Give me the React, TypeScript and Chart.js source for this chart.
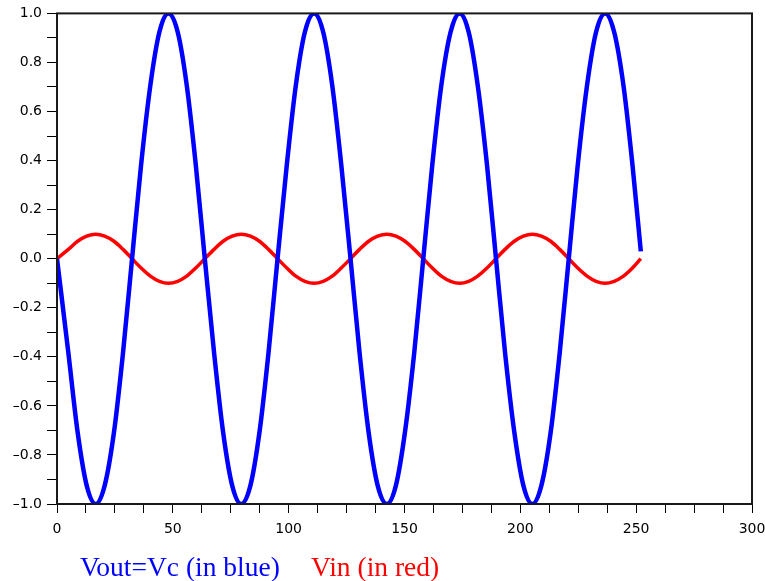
import React, { useEffect, useRef } from "react";
import { Chart, registerables } from "chart.js";

Chart.register(...registerables);

// time axis samples
const timeValues: number[] = [
  0, 4.9, 8.9, 12.8, 16.7, 20.6, 24.6, 28.5, 32.4, 36.3, 40.3, 44.2, 48.1, 52.1, 56.0, 59.9,
  63.8, 67.8, 71.7, 75.6, 79.5, 83.5, 87.4, 91.3, 95.2, 99.2, 103.1, 107.0, 111.0, 114.9, 118.8, 122.7,
  126.7, 130.6, 134.5, 138.4, 142.4, 146.3, 150.2, 154.2, 158.1, 162.0, 165.9, 169.9, 173.8, 177.7, 181.6, 185.6,
  189.5, 193.4, 197.4, 201.3, 205.2, 209.1, 213.1, 217.0, 220.9, 224.8, 228.8, 232.7, 236.6, 240.5, 244.5, 248.4,
  252.0,
];

// Vout = Vc (blue)
const voutValues: number[] = [
  0,
  -0.383, -0.707, -0.924, -1, -0.924, -0.707, -0.383, 0, 0.383, 0.707, 0.924, 1, 0.924, 0.707, 0.383, 0,
  -0.383, -0.707, -0.924, -1, -0.924, -0.707, -0.383, 0, 0.383, 0.707, 0.924, 1, 0.924, 0.707, 0.383, 0,
  -0.383, -0.707, -0.924, -1, -0.924, -0.707, -0.383, 0, 0.383, 0.707, 0.924, 1, 0.924, 0.707, 0.383, 0,
  -0.383, -0.707, -0.924, -1, -0.924, -0.707, -0.383, 0, 0.383, 0.707, 0.924, 1, 0.924, 0.707, 0.383, 0.03,
];

// Vin (red)
const vinValues: number[] = [
  0,
  0.038, 0.071, 0.092, 0.1, 0.092, 0.071, 0.038, 0, -0.038, -0.071, -0.092, -0.1, -0.092, -0.071, -0.038, 0,
  0.038, 0.071, 0.092, 0.1, 0.092, 0.071, 0.038, 0, -0.038, -0.071, -0.092, -0.1, -0.092, -0.071, -0.038, 0,
  0.038, 0.071, 0.092, 0.1, 0.092, 0.071, 0.038, 0, -0.038, -0.071, -0.092, -0.1, -0.092, -0.071, -0.038, 0,
  0.038, 0.071, 0.092, 0.1, 0.092, 0.071, 0.038, 0, -0.038, -0.071, -0.092, -0.1, -0.092, -0.071, -0.038, 0,
];

const xMin = 0;
const xMax = 300;
const xStep = 12.5;
const xLabelEvery = 50;
const yMin = -1;
const yMax = 1;
const yStep = 0.1;

const legendItems = [
  { text: "Vout=Vc (in blue)", color: "#0000ff", left: 80 },
  { text: "Vin (in red)", color: "#ff0000", left: 311 },
];

const boxPlugin = {
  id: "boxPlugin",
  afterDraw(chart: any) {
    const { ctx, chartArea } = chart;
    ctx.save();
    ctx.strokeStyle = "#1a1a1a";
    ctx.lineWidth = 2;
    ctx.strokeRect(chartArea.left, chartArea.top, chartArea.right - chartArea.left, chartArea.bottom - chartArea.top);
    ctx.restore();
  },
};

export default function App() {
  const canvasRef = useRef<HTMLCanvasElement | null>(null);

  useEffect(() => {
    if (!canvasRef.current) return;
    const chart = new Chart(canvasRef.current, {
      type: "line",
      data: {
        datasets: [
          {
            label: "Vout=Vc",
            data: timeValues.map((t, i) => ({ x: t, y: voutValues[i] })),
            borderColor: "#0000ff",
            borderWidth: 4.5,
            pointRadius: 0,
            cubicInterpolationMode: "monotone",
            fill: false,
          },
          {
            label: "Vin",
            data: timeValues.map((t, i) => ({ x: t, y: vinValues[i] })),
            borderColor: "#ff0000",
            borderWidth: 3.5,
            pointRadius: 0,
            cubicInterpolationMode: "monotone",
            fill: false,
          },
        ],
      },
      options: {
        animation: false,
        responsive: false,
        maintainAspectRatio: false,
        layout: { padding: { left: 0, right: 28, top: 13, bottom: 0 } },
        plugins: { legend: { display: false }, tooltip: { enabled: false } },
        scales: {
          x: {
            type: "linear",
            min: xMin,
            max: xMax,
            afterFit: (scale: any) => {
              scale.height = 77;
            },
            border: { display: false },
            grid: { drawOnChartArea: false, drawTicks: true, tickLength: 9, color: "#000", lineWidth: 1 },
            ticks: {
              stepSize: xStep,
              autoSkip: false,
              maxRotation: 0,
              padding: 8,
              color: "#000",
              font: { family: "DejaVu Sans", size: 14 },
              callback: (v: any) => {
                const n = Number(v);
                return Math.abs(n / xLabelEvery - Math.round(n / xLabelEvery)) < 1e-6 ? String(Math.round(n)) : "";
              },
            },
          },
          y: {
            type: "linear",
            min: yMin,
            max: yMax,
            afterFit: (scale: any) => {
              scale.width = 57;
            },
            border: { display: false },
            grid: { drawOnChartArea: false, drawTicks: true, tickLength: 10, color: "#000", lineWidth: 1 },
            ticks: {
              stepSize: yStep,
              autoSkip: false,
              padding: 5,
              color: "#000",
              font: { family: "DejaVu Sans", size: 14 },
              callback: (v: any) => {
                const k = Math.round(Number(v) * 10);
                if (k % 2 !== 0) return "";
                const s = (Math.abs(k) / 10).toFixed(1);
                return k < 0 ? "\u2013" + s : s;
              },
            },
          },
        },
      },
      plugins: [boxPlugin],
    } as any);
    return () => chart.destroy();
  }, []);

  return (
    <div
      style={{
        position: "fixed",
        left: 0,
        top: 0,
        width: 765,
        height: 581,
        overflow: "hidden",
        background: "#fff",
      }}
    >
      <canvas ref={canvasRef} width={780} height={581} style={{ display: "block" }} />
      {legendItems.map((it) => (
        <div
          key={it.text}
          style={{
            position: "absolute",
            left: it.left,
            top: 553,
            fontFamily: "'Liberation Serif', 'Times New Roman', serif",
            fontSize: 27.5,
            lineHeight: "27px",
            color: it.color,
            whiteSpace: "nowrap",
          }}
        >
          {it.text}
        </div>
      ))}
    </div>
  );
}
